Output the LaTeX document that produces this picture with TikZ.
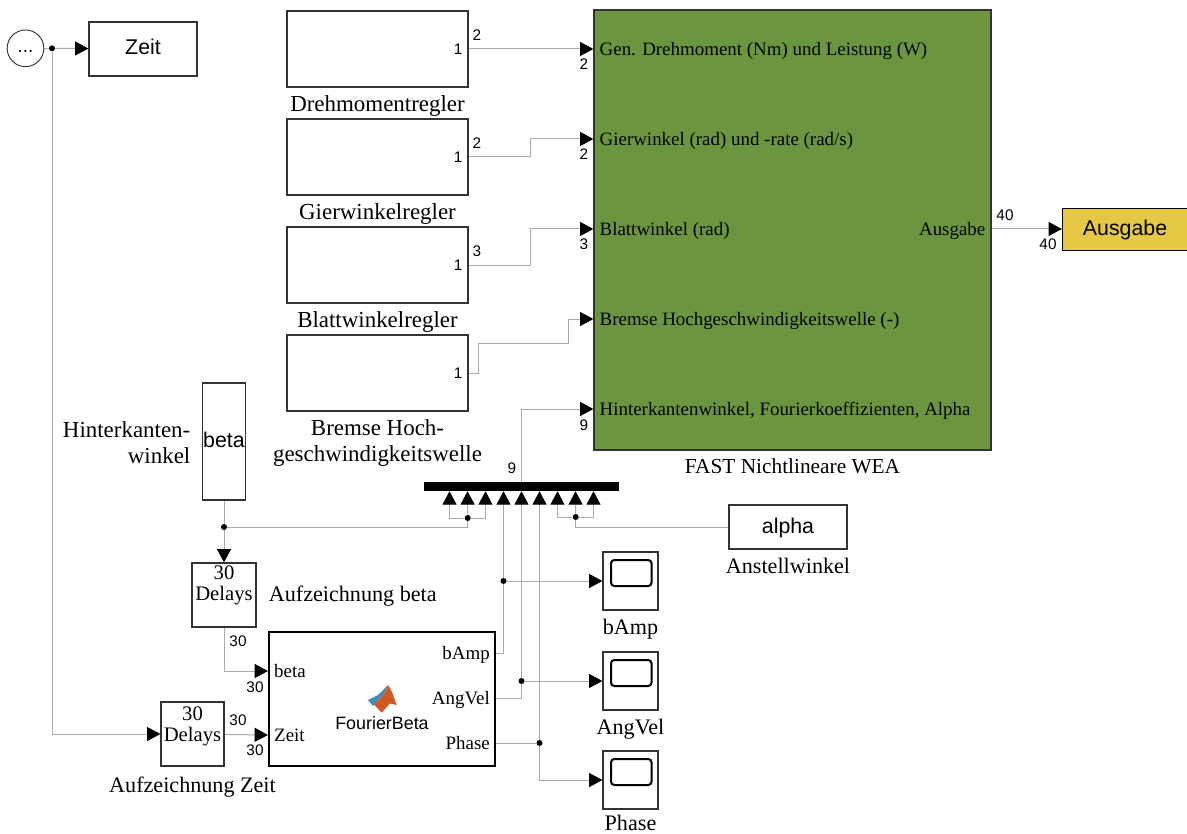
\documentclass[tikz,border=0pt]{standalone}
\usepackage{fontspec}
\setmainfont{Liberation Serif}
\setsansfont{Liberation Sans}
\usetikzlibrary{positioning,arrows.meta,calc,backgrounds}
\definecolor{wea}{HTML}{6B963F}
\definecolor{gelb}{HTML}{E5C945}
\definecolor{linie}{HTML}{ABABAB}
\definecolor{rahmen}{HTML}{333333}
\definecolor{logoblau}{HTML}{3C8DBE}
\definecolor{logorot}{HTML}{CF5A22}
\begin{document}
\begin{tikzpicture}[
  x=0.75pt, y=-0.75pt,
  block/.style={draw=rahmen, fill=white, line width=0.9pt, minimum width=#1*0.75pt, inner sep=0pt},
  sans/.style={font=\sffamily\fontsize{16}{19}\selectfont, inner sep=0pt, text height=12pt, text depth=3pt},
  serif/.style={font=\fontsize{17.2}{19.5}\selectfont, inner sep=0pt, align=center},
  klein/.style={font=\fontsize{16.6}{18}\selectfont, inner sep=0pt},
  port/.style={font=\fontsize{14.2}{16}\selectfont, inner sep=0pt, text height=13pt, text depth=3pt},
  sig/.style={font=\sffamily\fontsize{11.5}{13}\selectfont, inner sep=0pt},
  pfeil/.style={-{Triangle[length=10pt, width=10.5pt, color=black]}, draw=linie, line width=0.75pt},
  leit/.style={draw=linie, line width=0.75pt},
  punkt/.style={circle, fill=black, inner sep=0pt, minimum size=4.5pt},
  scopebox/.style={block=55, minimum height=58*0.75pt},
  delay/.style={minimum height=48pt, align=center, font=\fontsize{15.5}{15.75}\selectfont}
]
\useasboundingbox (0,0) rectangle (1187,834);

\node[draw=rahmen, circle, line width=0.7pt, minimum size=27.5pt, inner sep=0pt, text height=9pt, text depth=3pt, font=\sffamily\fontsize{14}{14}\selectfont] (takt) at (25.5,48.3) {...};
\node[block=108, minimum height=40.5pt, sans] (zeit) at (143,49) {Zeit};
\node[punkt] (j0) at (52,48.3) {};

% Regler
\node[block=181, minimum height=57pt] (dreh) at (377.5,49) {};
\node[block=181, minimum height=57pt] (gier) at (377.5,157) {};
\node[block=181, minimum height=57pt] (blatt) at (377.5,265) {};
\node[block=181, minimum height=57pt] (bremse) at (377.5,373) {};
\node[serif, below=5.7pt of dreh] (tdreh) {Drehmomentregler};
\node[serif, below=5.5pt of gier] (tgier) {Gierwinkelregler};
\node[serif, below=5.5pt of blatt] (tblatt) {Blattwinkelregler};
\node[serif, below=6pt of bremse] (tbremse) {Bremse Hoch-\\geschwindigkeitswelle};
\node[sig, left=4.5pt of dreh.east] (a1) {1};
\node[sig, left=4.5pt of gier.east] (a2) {1};
\node[sig, left=4.5pt of blatt.east] (a3) {1};
\node[sig, left=4.5pt of bremse.east] (a4) {1};

% FAST
\node[block=397, minimum height=330pt, fill=wea] (fast) at (792.5,230) {};
\node[klein, below=6pt of fast, font=\fontsize{16}{18}\selectfont] (tfast) {FAST Nichtlineare WEA};
\coordinate (g1) at (fast.west |- 0,49);
\coordinate (g2) at (fast.west |- 0,139);
\coordinate (g3) at (fast.west |- 0,229);
\coordinate (g4) at (fast.west |- 0,319);
\coordinate (g5) at (fast.west |- 0,409);
\node[port, right=4.5pt of g1] (p1) {Gen. Drehmoment (Nm) und Leistung (W)};
\node[port, right=4.5pt of g2] (p2) {Gierwinkel (rad) und -rate (rad/s)};
\node[port, right=4.5pt of g3] (p3) {Blattwinkel (rad)};
\node[port, right=4.5pt of g4] (p4) {Bremse Hochgeschwindigkeitswelle (-)};
\node[port, right=4.5pt of g5] (p5) {Hinterkantenwinkel, Fourierkoeffizienten, Alpha};
\node[port, left=4.5pt of fast.east |- g3] (p6) {Ausgabe};
\node[block=125, minimum height=32pt, fill=gelb, sans, draw=black] (ausgabe) at (1125,229.5) {Ausgabe};

% beta und Bus
\node[block=43, minimum height=87.75pt, sans] (beta) at (224,441.5) {beta};
\node[serif, left=8.5pt of beta, yshift=-0.5pt, align=right] (tbeta) {Hinterkanten-\\winkel};
\node[fill=black, minimum width=146.25pt, minimum height=6.75pt, inner sep=0pt] (bus) at (521.5,486.5) {};
\foreach \i in {1,...,9}
  \coordinate (m\i) at ($(bus.south)+({(\i-5)*18},0)$);
\node[block=118, minimum height=33pt, sans] (alpha) at (788,527) {alpha};
\node[klein, below=6.5pt of alpha] (talpha) {Anstellwinkel};
\node[punkt] (j1) at (224,527) {};
\node[punkt] (j2) at (467.7,518) {};
\node[punkt] (j3) at (575.7,517) {};

% Delays
\node[block=64, delay] (del1) at (224,595) {30\\Delays\\[2pt]\mbox{}};
\node[block=63, delay] (del2) at (192.5,734) {30\\Delays\\[-1pt]\mbox{}};
\node[klein, right=9pt of del1, yshift=-0.7pt] (tdel1) {Aufzeichnung beta};
\node[klein, below=7.5pt of del2] (tdel2) {Aufzeichnung Zeit};

% FourierBeta
\node[block=226, minimum height=100.5pt, draw=black, line width=1.6pt] (fourier) at (382,699) {};
\coordinate (f1) at (fourier.west |- 0,671);
\coordinate (f2) at (fourier.west |- 0,735);
\coordinate (f3) at (fourier.east |- 0,653);
\coordinate (f4) at (fourier.east |- 0,698);
\coordinate (f5) at (fourier.east |- 0,743);
\node[port, right=4.5pt of f1] (pbeta) {beta};
\node[port, right=4.5pt of f2] (pzeit) {Zeit};
\node[port, left=4.5pt of f3] (pamp) {bAmp};
\node[port, left=4.5pt of f4] (pang) {AngVel};
\node[port, left=4.5pt of f5] (pphase) {Phase};
\node[font=\sffamily\fontsize{13.4}{15}\selectfont, inner sep=0pt] (tfourier) at (382,723) {FourierBeta};
\fill[logoblau] (368,700) -- (378,695) -- (388,685) -- (384,694) -- (378,700) -- (373,706) -- cycle;
\fill[logorot] (388.3,685) -- (392,692) -- (396.7,705) -- (390,703.5) -- (381.7,712.7) -- (373.5,704) -- (379,699.5) -- (384,694) -- cycle;

% Scopes
\node[scopebox] (s1) at (630.5,581) {};
\node[scopebox] (s2) at (630.5,681) {};
\node[scopebox] (s3) at (630.5,780) {};
\foreach \s in {s1,s2,s3}
  \draw[rounded corners=2.5pt, line width=1.5pt] ($(\s)+(-19.5,-21)$) rectangle ($(\s)+(21,5)$);
\node[klein, below=6.5pt of s1] (ts1) {bAmp};
\node[klein, below=6pt of s2] (ts2) {AngVel};
\node[klein, below=4pt of s3] (ts3) {Phase};

\node[punkt] (j4) at (m4 |- s1) {};
\node[punkt] (j5) at (m5 |- s2) {};
\node[punkt] (j6) at (m6 |- f5) {};

% Verbindungen
\begin{scope}[on background layer]
\draw[leit] (takt) -- (j0);
\draw[pfeil] (j0) -- (zeit);
\draw[pfeil] (j0) |- (del2);
\draw[pfeil] (dreh.east) -- (g1);
\draw[pfeil] (gier.east) -- ++(62,0) |- (g2);
\draw[pfeil] (blatt.east) -- ++(62,0) |- (g3);
\draw[pfeil] (bremse.east) -- ++(10,0) |- (568,343) |- (g4);
\draw[pfeil] (bus.north) |- (g5);
\draw[pfeil] (fast.east |- g3) -- (ausgabe.west |- g3);

\draw[pfeil] (beta) -- (del1);
\draw[leit] (j1) -| (j2);
\draw[pfeil] (j2) -| (m1);
\draw[pfeil] (j2) -- (m2);
\draw[pfeil] (j2) -| (m3);
\draw[leit] (alpha) -| (j3);
\draw[pfeil] (j3) -| (m7);
\draw[pfeil] (j3) -- (m8);
\draw[pfeil] (j3) -| (m9);

\draw[pfeil] (del1) |- (f1);
\draw[pfeil] (del2) -- (f2);

\draw[pfeil] (f3) -| (m4);
\draw[pfeil] (f4) -| (m5);
\draw[leit] (f5) -- (j6);
\draw[pfeil] (j6) -- (m6);
\draw[pfeil] (j4) -- (s1);
\draw[pfeil] (j5) -- (s2);
\draw[pfeil] (j6) |- (s3);
\end{scope}

% Signalbreiten
\node[sig] (b1) at (477,35) {2};
\node[sig] (b2) at (584,64) {2};
\node[sig] (b3) at (477,143) {2};
\node[sig] (b4) at (584,154) {2};
\node[sig] (b5) at (477,251) {3};
\node[sig] (b6) at (584,244) {3};
\node[sig] (b7) at (584,425) {9};
\node[sig] (b8) at (512,468) {9};
\node[sig] (b9) at (1005,215) {40};
\node[sig] (b10) at (1048,244) {40};
\node[sig] (b11) at (238,641) {30};
\node[sig] (b12) at (255,687) {30};
\node[sig] (b13) at (238,720) {30};
\node[sig] (b14) at (255,750) {30};
\end{tikzpicture}
\end{document}
